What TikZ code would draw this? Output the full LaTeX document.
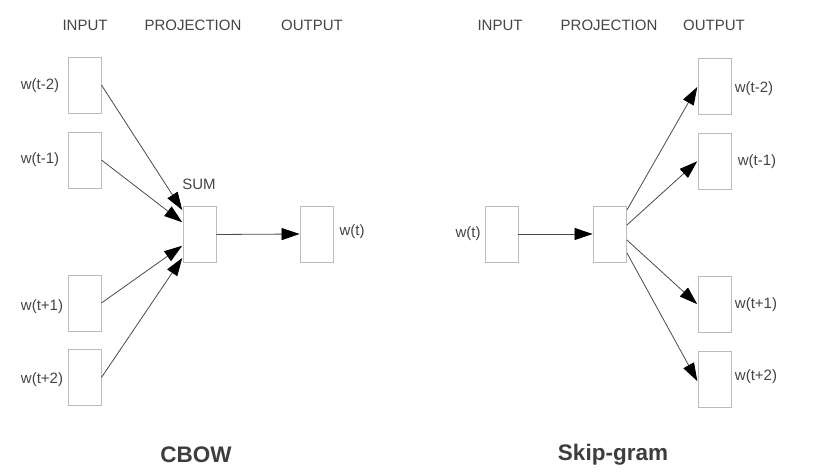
\documentclass[tikz,border=0pt]{standalone}
\usepackage{fontspec}
\setmainfont{Liberation Sans}
\usetikzlibrary{arrows.meta}
\definecolor{txt}{HTML}{444444}
\definecolor{boxc}{HTML}{BBBBBB}
\definecolor{linec}{HTML}{4A4A4A}
\tikzset{
  wbox/.style={draw=boxc, line width=0.9pt, minimum width=33pt, minimum height=56pt, inner sep=0pt, fill=white},
  lbl/.style={text=txt, inner sep=0pt, font=\fontsize{15}{18}\selectfont},
  ttl/.style={text=txt!90!black, inner sep=0pt, font=\fontsize{22.5}{26}\selectfont\bfseries},
  conn/.style={draw=linec, line width=0.8pt, -{Triangle[length=18pt,width=12pt,color=black,fill=black]}, shorten >=0.5pt}
}
\begin{document}
\begin{tikzpicture}[x=1pt,y=-1pt]
\useasboundingbox (0,0) rectangle (820,476);
% ---------- CBOW ----------
\node[lbl] (hin) at (85,25) {INPUT};
\node[lbl] (hproj) at (193,25) {PROJECTION};
\node[lbl] (hout) at (312,25) {OUTPUT};
\node[wbox] (in1) at (84.5,85) {};
\node[wbox] (in2) at (84.5,160) {};
\node[wbox] (in3) at (84.5,303) {};
\node[wbox] (in4) at (84.5,377.5) {};
\node[wbox] (sum) at (199.5,234.5) {};
\node[wbox] (out) at (317,234) {};
\node[lbl] (lsum) at (199,184) {SUM};
\node[lbl] (l1) at (40,86) {w(t-2)};
\node[lbl] (l2) at (40,160) {w(t-1)};
\node[lbl] (l3) at (42,307) {w(t+1)};
\node[lbl] (l4) at (42,380) {w(t+2)};
\node[lbl] (lo) at (352,232) {w(t)};
\draw[conn] (in1.east) -- ([yshift=24pt]sum.west);
\draw[conn] (in2.east) -- ([yshift=12pt]sum.west);
\draw[conn] (in3.east) -- ([yshift=-11pt]sum.west);
\draw[conn] (in4.east) -- ([yshift=-23pt]sum.west);
\draw[conn] (sum.east) -- (out.west);
\node[ttl] (cbow) at (196,455) {CBOW};
% ---------- Skip-gram ----------
\node[lbl] (rhin) at (500,25) {INPUT};
\node[lbl] (rhproj) at (609,25) {PROJECTION};
\node[lbl] (rhout) at (714,25) {OUTPUT};
\node[wbox] (rin) at (501.5,234) {};
\node[wbox] (proj) at (610,234) {};
\node[wbox] (o1) at (714.5,86.5) {};
\node[wbox] (o2) at (714.5,161) {};
\node[wbox] (o3) at (714.5,304.5) {};
\node[wbox] (o4) at (714.5,379.5) {};
\node[lbl] (rl) at (468,234) {w(t)};
\node[lbl] (r1) at (754,89) {w(t-2)};
\node[lbl] (r2) at (757,162) {w(t-1)};
\node[lbl] (r3) at (756,305) {w(t+1)};
\node[lbl] (r4) at (756,377) {w(t+2)};
\draw[conn] (rin.east) -- (proj.west);
\draw[conn] ([yshift=24pt]proj.east) -- (o1.west);
\draw[conn] ([yshift=9pt]proj.east) -- (o2.west);
\draw[conn] ([yshift=-6pt]proj.east) -- (o3.west);
\draw[conn] ([yshift=-19pt]proj.east) -- ([yshift=-2pt]o4.west);
\node[ttl] (skip) at (613,455) {Skip-gram};
\end{tikzpicture}
\end{document}
